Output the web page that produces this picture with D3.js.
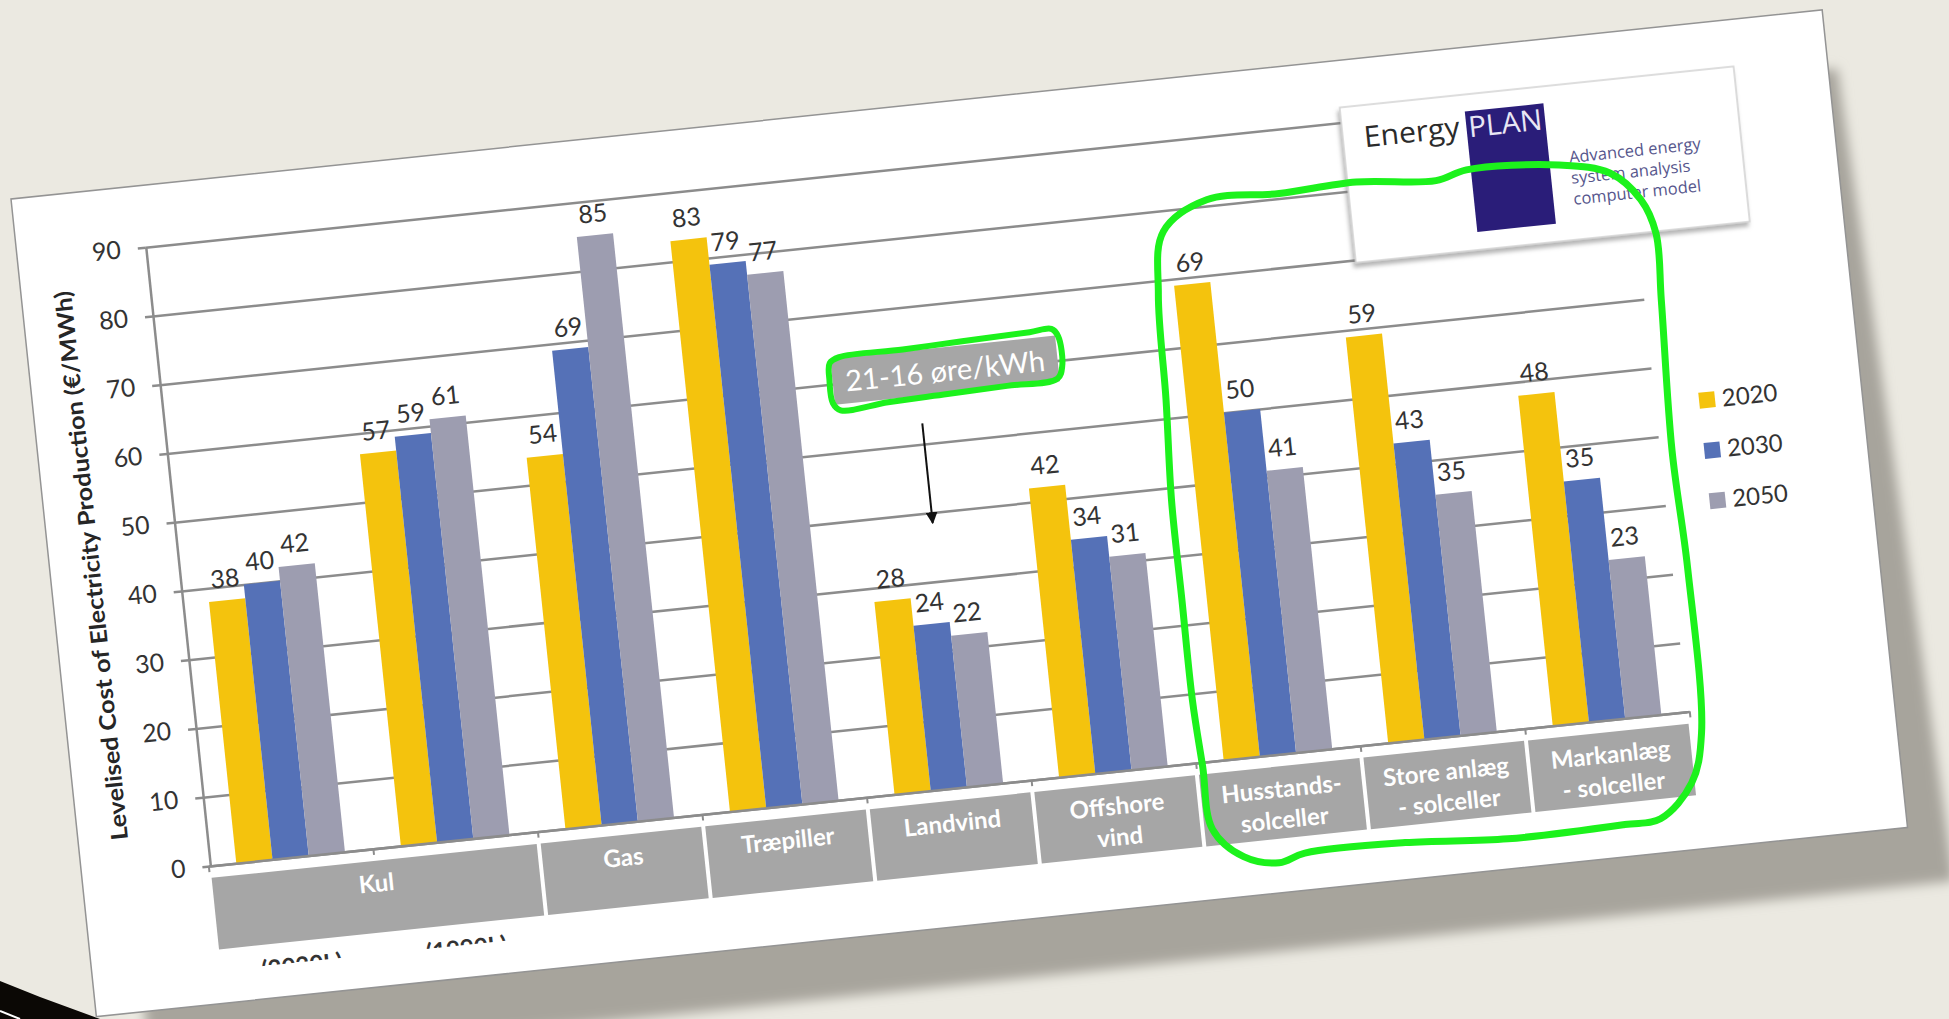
<!DOCTYPE html>
<html>
<head>
<meta charset="utf-8">
<script src="https://cdn.jsdelivr.net/npm/d3@7"></script>
<style>
  html, body { margin: 0; padding: 0; background: #ebe9e1; overflow: hidden; }
  svg { display: block; }
</style>
</head>
<body>
<script>
// ---- data ----
var groups = ["Kul A", "Kul B", "Gas", "Træpiller", "Landvind", "Offshore vind",
              "Husstands-solceller", "Store anlæg - solceller", "Markanlæg - solceller"];
var v2020 = [38, 57, 54, 83, 28, 42, 69, 59, 48];
var v2030 = [40, 59, 69, 79, 24, 34, 50, 43, 35];
var v2050 = [42, 61, 85, 77, 22, 31, 41, 35, 23];
var years = ["2020", "2030", "2050"];
var colors = ["#f4c30d", "#5571b7", "#9d9db0"];
var categories = [["Kul"], ["Gas"], ["Træpiller"], ["Landvind"], ["Offshore", "vind"],
                  ["Husstands-", "solceller"], ["Store anlæg", "- solceller"], ["Markanlæg", "- solceller"]];
var catSpans = [2, 1, 1, 1, 1, 1, 1, 1];
var kulSub = ["(2020L)", "(1990L)"];   // only the top of these is visible
var yTicks = [0, 10, 20, 30, 40, 50, 60, 70, 80, 90];
var yTitle = "Levelised Cost of Electricity Production (€/MWh)";
var note = "21-16 øre/kWh";
var tagline = ["Advanced energy", "system analysis", "computer model"];

// hand drawn marks, in (group index, value) space
var notePos = [4.74, 60.3];
var arrowPos = [4.57, 53.0, 38.5];
var loopPts = [[6.05,52.7],[6.02,38.2],[6.02,23.7],[6.02,9.1],[6.04,-0.6],[6.06,-9.8],[6.23,-14.2],
  [6.44,-15.6],[6.60,-14.6],[7.21,-14.6],[7.83,-15.6],[8.54,-15.3],[8.76,-15.0],[8.97,-10.3],
  [9.06,-3.3],[9.08,20.8],[9.06,37.9],[9.09,59.6],[9.10,69.3],[9.03,74.4],[8.86,78.7],[8.56,80.6],
  [8.00,81.3],[7.81,80.2],[7.33,81.2],[6.86,80.7],[6.42,80.9],[6.14,77.0],[6.07,68.0]];

// ---- layout ----
var W = 1949, H = 1019;
var paperW = 1821, paperH = 822;
var font = "Lato, 'Open Sans', sans-serif";

var svg = d3.select("body").append("svg").attr("width", W).attr("height", H);
var defs = svg.append("defs");
defs.append("filter").attr("id", "blur")
    .attr("x", "-5%").attr("y", "-5%").attr("width", "110%").attr("height", "115%")
  .append("feGaussianBlur").attr("stdDeviation", 6);
defs.append("filter").attr("id", "logoShadow")
  .append("feDropShadow").attr("dx", -2).attr("dy", 4).attr("stdDeviation", 2)
    .attr("flood-color", "#777").attr("flood-opacity", 0.55);
defs.append("marker").attr("id", "arrow").attr("viewBox", "0 0 10 10")
    .attr("refX", 9).attr("refY", 5).attr("markerWidth", 6).attr("markerHeight", 6)
    .attr("orient", "auto")
  .append("path").attr("d", "M0,0L10,5L0,10z").attr("fill", "#111");
defs.append("clipPath").attr("id", "cutoff")
  .append("rect").attr("x", 120).attr("y", 770).attr("width", 500).attr("height", 19);

svg.append("rect").attr("width", W).attr("height", H).attr("fill", "#ebe9e1");

// black corner of the slide
svg.append("path").attr("d", "M0,981 L40,997 L100,1019 L0,1019 Z").attr("fill", "#0b0805");
svg.append("path").attr("d", "M0,1011 L20,1019").attr("stroke", "#fff").attr("stroke-width", 2);

// the tilted sheet
var g = svg.append("g").attr("transform", "translate(11,199) rotate(-5.96)");

g.append("path")
    .attr("d", "M25,30 L1830,60 L1862,880 L50,880 Z")
    .attr("fill", "#a7a49c").attr("filter", "url(#blur)");
g.append("rect").attr("width", paperW).attr("height", paperH)
    .attr("fill", "#fff").attr("stroke", "#949494").attr("stroke-width", 1.5);

// scales
var x = d3.scaleBand().domain(groups).range([127, 1616]).paddingInner(0.34).paddingOuter(0.17);
var xs = d3.scaleBand().domain(years).range([0, x.bandwidth()]);
var xi = d3.scaleLinear().domain([0, groups.length]).range([127, 1616]);
var y = d3.scaleLinear().domain([0, 90]).range([684, 62]);
var axisLeftX = 129;

// gridlines
g.append("g").attr("transform", "translate(" + axisLeftX + ",0)")
    .call(d3.axisLeft(y).tickValues(yTicks).tickSize(-(1614 - axisLeftX)).tickFormat(""))
    .call(function (s) {
      s.select(".domain").remove();
      s.selectAll("line").attr("stroke", "#8c8c8c").attr("stroke-width", 2.5);
    });

// bars
var series = [v2020, v2030, v2050];
var barData = [];
groups.forEach(function (name, i) {
  years.forEach(function (yr, j) {
    barData.push({ group: name, year: yr, value: series[j][i], color: colors[j] });
  });
});

g.append("g").selectAll("rect").data(barData).enter().append("rect")
    .attr("x", function (d) { return x(d.group) + xs(d.year); })
    .attr("y", function (d) { return y(d.value); })
    .attr("width", xs.bandwidth())
    .attr("height", function (d) { return y(0) - y(d.value); })
    .attr("fill", function (d) { return d.color; });

g.append("g").selectAll("text").data(barData).enter().append("text")
    .attr("x", function (d) { return x(d.group) + xs(d.year) + xs.bandwidth() / 2; })
    .attr("y", function (d) { return y(d.value) - 13; })
    .attr("text-anchor", "middle")
    .attr("font-family", font).attr("font-size", 25).attr("fill", "#333")
    .text(function (d) { return d.value; });

// y axis
g.append("g").attr("transform", "translate(" + axisLeftX + ",0)")
    .call(d3.axisLeft(y).tickValues(yTicks).tickSize(8).tickSizeOuter(0).tickPadding(17))
    .call(function (s) {
      s.select(".domain").attr("stroke", "#8c8c8c").attr("stroke-width", 2.5);
      s.selectAll("line").attr("stroke", "#8c8c8c").attr("stroke-width", 2.5);
      s.selectAll("text").attr("font-family", font).attr("font-size", 25).attr("fill", "#333");
    });

g.append("text")
    .attr("transform", "translate(50,373) rotate(-90)")
    .attr("text-anchor", "middle")
    .attr("font-family", font).attr("font-weight", "bold").attr("font-size", 23)
    .attr("textLength", 552).attr("lengthAdjust", "spacingAndGlyphs")
    .attr("fill", "#262626")
    .text(yTitle);

// category axis line with group ticks
g.append("g").attr("transform", "translate(0," + y(0) + ")")
    .call(d3.axisBottom(xi).tickValues(d3.range(0, groups.length + 1)).tickSize(6).tickSizeOuter(0).tickFormat(""))
    .call(function (s) {
      s.select(".domain").attr("stroke", "#8c8c8c").attr("stroke-width", 2.5);
      s.selectAll("line").attr("stroke", "#8c8c8c").attr("stroke-width", 2);
    });

// category boxes
var starts = [0].concat(Array.from(d3.cumsum(catSpans)));
var boxTop = 696, boxH = 72;
var cat = g.append("g").selectAll("g").data(categories).enter().append("g");
cat.append("rect")
    .attr("x", function (d, i) { return xi(starts[i]) + 2; })
    .attr("y", boxTop)
    .attr("width", function (d, i) { return xi(starts[i] + catSpans[i]) - xi(starts[i]) - 4; })
    .attr("height", boxH)
    .attr("fill", "#a6a6a6");
cat.each(function (d, i) {
  var cx = (xi(starts[i]) + xi(starts[i] + catSpans[i])) / 2;
  d3.select(this).selectAll("text").data(d).enter().append("text")
      .attr("x", cx)
      .attr("y", function (line, k) { return boxTop + 31 + k * 31; })
      .attr("text-anchor", "middle")
      .attr("font-family", font).attr("font-weight", "bold").attr("font-size", 24)
      .attr("fill", "#fff")
      .text(function (line) { return line; });
});

// cut-off sub labels under Kul
g.append("g").attr("clip-path", "url(#cutoff)")
  .selectAll("text").data(kulSub).enter().append("text")
    .attr("x", function (d, i) { return xi(i + 0.5); })
    .attr("y", 801)
    .attr("text-anchor", "middle")
    .attr("font-family", font).attr("font-weight", "bold").attr("font-size", 24)
    .attr("fill", "#333")
    .text(function (d) { return d; });

// EnergyPLAN logo
var logo = g.append("g");
logo.append("rect").attr("x", 1331).attr("y", 47).attr("width", 396).attr("height", 156)
    .attr("fill", "#fff").attr("stroke", "#d2d2d2").attr("stroke-width", 1.5)
    .attr("filter", "url(#logoShadow)");
logo.append("rect").attr("x", 1455).attr("y", 64).attr("width", 79).attr("height", 121)
    .attr("fill", "#2a1d79");
logo.append("text").attr("x", 1352).attr("y", 89)
    .attr("font-family", "'Open Sans', sans-serif").attr("font-size", 29)
    .attr("textLength", 96).attr("lengthAdjust", "spacingAndGlyphs")
    .attr("fill", "#2b2b2b").text("Energy");
logo.append("text").attr("x", 1457).attr("y", 90)
    .attr("font-family", "'Open Sans', sans-serif").attr("font-size", 29)
    .attr("textLength", 74).attr("lengthAdjust", "spacingAndGlyphs")
    .attr("fill", "#e8e6f4").text("PLAN");
logo.selectAll("text.tag").data(tagline).enter().append("text")
    .attr("class", "tag")
    .attr("x", 1554)
    .attr("y", function (d, i) { return 126 + i * 21; })
    .attr("font-family", "'Open Sans', sans-serif").attr("font-size", 16.5)
    .attr("fill", "#56568c")
    .text(function (d) { return d; });

// legend
var leg = g.append("g").selectAll("g").data(years).enter().append("g")
    .attr("transform", function (d, i) { return "translate(1666," + (376 + i * 50.5) + ")"; });
leg.append("rect").attr("x", -8).attr("y", -8).attr("width", 16).attr("height", 16)
    .attr("fill", function (d, i) { return colors[i]; });
leg.append("text").attr("x", 15).attr("y", 8)
    .attr("font-family", font).attr("font-size", 24).attr("fill", "#333")
    .text(function (d) { return d; });

// note box with arrow
var nx = xi(notePos[0]), ny = y(notePos[1]);
g.append("rect").attr("x", nx - 113).attr("y", ny - 23).attr("width", 226).attr("height", 46)
    .attr("fill", "#a6a6a6");
g.append("text").attr("x", nx).attr("y", ny + 11)
    .attr("text-anchor", "middle")
    .attr("font-family", font).attr("font-size", 29).attr("fill", "#fff")
    .text(note);
g.append("line")
    .attr("x1", xi(arrowPos[0])).attr("y1", y(arrowPos[1]))
    .attr("x2", xi(arrowPos[0])).attr("y2", y(arrowPos[2]))
    .attr("stroke", "#111").attr("stroke-width", 2)
    .attr("marker-end", "url(#arrow)");

var noteRing = [[-114,-19],[-104,-24],[-40,-25],[20,-27],[88,-29],[110,-30],[116,-22],[117,8],
                [111,20],[60,22],[0,24],[-60,26],[-108,29],[-115,21],[-116,-2]];
var green = "#1cf21c";
g.append("path")
    .attr("d", d3.line().curve(d3.curveCatmullRomClosed.alpha(0.5))
        .x(function (p) { return nx + p[0]; })
        .y(function (p) { return ny + p[1]; })(noteRing))
    .attr("fill", "none").attr("stroke", green).attr("stroke-width", 6);

// big hand drawn loop around the solar groups
g.append("path")
    .attr("d", d3.line().curve(d3.curveCatmullRomClosed.alpha(0.5))
        .x(function (p) { return xi(p[0]); })
        .y(function (p) { return y(p[1]); })(loopPts))
    .attr("fill", "none").attr("stroke", green).attr("stroke-width", 7)
    .attr("stroke-linejoin", "round");
</script>
</body>
</html>
